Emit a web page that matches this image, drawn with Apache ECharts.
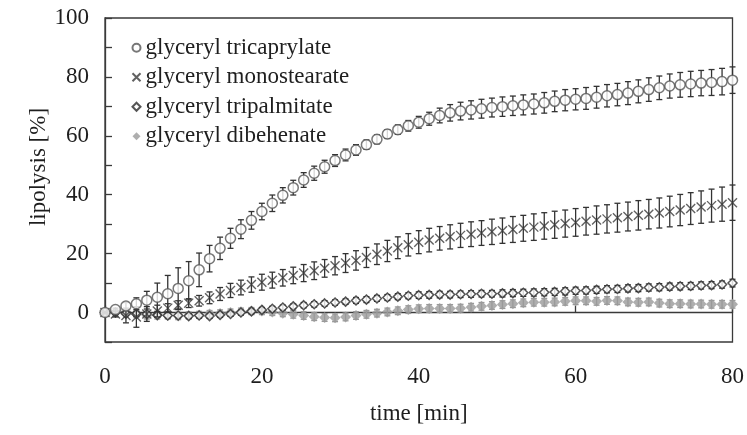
<!DOCTYPE html>
<html>
<head>
<meta charset="utf-8">
<script src="https://cdn.jsdelivr.net/npm/echarts@6/dist/echarts.min.js"></script>
<style>
  html, body { margin: 0; padding: 0; background: #fff; }
  #chart { width: 747px; height: 435px; }
</style>
</head>
<body>
<div id="chart"></div>
<script>
// Sampling times (min), one point every 80 s
const times = [0,1.33,2.67,4,5.33,6.67,8,9.33,10.67,12,13.33,14.67,16,17.33,18.67,20,21.33,22.67,24,25.33,
  26.67,28,29.33,30.67,32,33.33,34.67,36,37.33,38.67,40,41.33,42.67,44,45.33,46.67,48,49.33,50.67,52,
  53.33,54.67,56,57.33,58.67,60,61.33,62.67,64,65.33,66.67,68,69.33,70.67,72,73.33,74.67,76,77.33,78.67,80];

const seriesNames = ['glyceryl tricaprylate', 'glyceryl monostearate', 'glyceryl tripalmitate', 'glyceryl dibehenate'];

// Lipolysis (%) and standard deviations
const tricaprylate = [0,1.0,2.2,3.0,4.2,5.2,6.4,8.2,10.8,14.5,18.3,21.8,25.2,28.3,31.3,34.3,37.1,39.8,42.4,45.0,
  47.3,49.5,51.6,53.5,55.2,57.0,58.8,60.6,62.1,63.4,64.6,65.8,66.9,67.8,68.4,68.8,69.2,69.6,69.9,70.2,
  70.5,70.8,71.2,71.7,72.1,72.4,72.7,73.1,73.6,74.0,74.5,75.1,75.7,76.3,76.9,77.3,77.6,77.9,78.1,78.4,78.9];
const tricaprylateSd = [0,0.5,1.2,2,3,4.8,6.2,7,6.5,5.7,4.5,3.8,3.4,3.2,3,2.8,2.8,2.6,2.5,2.5,
  2.4,2.2,2,2,1.8,1.6,1.5,1.5,1.6,1.8,2,2.2,2.5,2.8,3,3.1,3.2,3.2,3.3,3.3,
  3.4,3.4,3.5,3.5,3.6,3.6,3.7,3.7,3.8,3.8,3.9,3.9,4,4,4.1,4.2,4.3,4.3,4.4,4.5,4.5];

const monostearate = [0,-0.5,-1.0,-1.5,-0.5,0.5,1.5,2.5,3.2,4.0,5.0,6.3,7.5,8.5,9.5,10.3,11.0,11.8,12.6,13.4,
  14.2,15.0,15.9,16.8,17.7,18.7,19.8,20.9,22.0,23.0,23.9,24.6,25.2,25.7,26.2,26.6,27.0,27.4,27.8,28.2,
  28.6,29.0,29.4,29.8,30.2,30.6,31.0,31.4,31.8,32.2,32.6,33.0,33.4,33.8,34.3,34.8,35.3,35.8,36.3,36.8,37.3];
const monostearateSd = [0.5,1,2.5,3.5,2.5,2,1.5,1.5,1.5,1.8,2,2.2,2.4,2.5,2.6,2.7,2.7,2.8,2.8,2.9,
  3,3,3.1,3.2,3.3,3.4,3.5,3.6,3.7,3.8,3.9,4,4,4.1,4.1,4.2,4.2,4.3,4.3,4.4,
  4.4,4.5,4.5,4.6,4.6,4.7,4.7,4.8,4.8,4.9,4.9,5,5,5.1,5.2,5.3,5.4,5.5,5.6,5.8,6.0];

const tripalmitate = [0,0,-0.3,-0.5,-0.5,-0.8,-1.0,-1.0,-1.2,-1.0,-1.2,-0.8,-0.5,0,0.4,0.9,1.3,1.7,2.1,2.5,
  2.8,3.1,3.4,3.7,4.1,4.4,4.8,5.1,5.4,5.7,5.9,6.0,6.1,6.1,6.2,6.3,6.4,6.4,6.5,6.6,
  6.7,6.8,6.9,7.0,7.2,7.4,7.5,7.7,7.9,8.0,8.2,8.3,8.5,8.6,8.8,8.9,9.0,9.2,9.3,9.5,10.0];
const tripalmitateSd = [0.3,0.5,0.6,0.8,0.8,0.8,0.8,0.8,0.8,0.8,0.8,0.8,0.8,0.8,0.8,0.8,0.8,0.8,0.8,0.9,
  0.9,0.9,0.9,0.9,1.0,1.0,1.0,1.0,1.0,1.0,1.1,1.1,1.1,1.1,1.1,1.1,1.1,1.1,1.2,1.2,
  1.2,1.2,1.2,1.2,1.2,1.2,1.2,1.2,1.2,1.2,1.2,1.2,1.2,1.2,1.2,1.2,1.2,1.2,1.2,1.2,1.3];

const dibehenate = [0,0,-0.5,-0.5,-1.0,-1.0,-1.0,-1.2,-1.0,-0.8,-0.5,-0.3,0,0.3,0.5,0.5,0.2,-0.2,-0.6,-1.0,
  -1.4,-1.7,-1.8,-1.5,-1.0,-0.6,-0.2,0.2,0.6,1.0,1.3,1.4,1.4,1.4,1.5,1.8,2.1,2.4,2.7,3.0,
  3.3,3.5,3.5,3.6,3.8,4.0,4.0,3.8,4.1,4.0,3.6,3.5,3.6,3.2,3.0,3.0,2.9,2.9,2.8,2.8,2.8];
const dibehenateSd = [0.5,0.8,1.0,1.2,1.2,1.2,1.2,1.2,1.2,1.2,1.2,1.2,1.2,1.2,1.2,1.2,1.2,1.2,1.3,1.3,
  1.3,1.3,1.3,1.3,1.3,1.3,1.3,1.3,1.3,1.3,1.3,1.3,1.3,1.3,1.3,1.3,1.3,1.3,1.3,1.3,
  1.3,1.3,1.3,1.3,1.3,1.3,1.3,1.3,1.3,1.3,1.3,1.3,1.3,1.3,1.3,1.3,1.3,1.3,1.3,1.3,1.3];

const xTicks = { min: 0, max: 80, step: 20 };
const yTicks = { min: -10, max: 100, step: 10, labelStep: 20 };

const FONT = '"Liberation Serif", "Times New Roman", Times, serif';
const AXIS = '#3a3a3a';
const INK = '#1e1e1e';

function points(vals) {
  return times.map((t, i) => [t, vals[i]]);
}

// Vertical error bar with short caps at both ends
function errorBars(vals, sds, color, z) {
  return {
    type: 'custom',
    silent: true,
    z: z,
    data: times.map((t, i) => [t, vals[i] - sds[i], vals[i] + sds[i]]),
    encode: { x: 0, y: [1, 2] },
    renderItem: function (params, api) {
      const x = api.value(0);
      const lo = api.coord([x, api.value(1)]);
      const hi = api.coord([x, api.value(2)]);
      const w = 3;
      const style = { stroke: color, lineWidth: 1.3 };
      return {
        type: 'group',
        children: [
          { type: 'line', shape: { x1: lo[0], y1: lo[1], x2: hi[0], y2: hi[1] }, style: style },
          { type: 'line', shape: { x1: lo[0] - w, y1: lo[1], x2: lo[0] + w, y2: lo[1] }, style: style },
          { type: 'line', shape: { x1: hi[0] - w, y1: hi[1], x2: hi[0] + w, y2: hi[1] }, style: style }
        ]
      };
    }
  };
}

const chart = echarts.init(document.getElementById('chart'), null, { renderer: 'canvas' });

chart.setOption({
  backgroundColor: '#ffffff',
  animation: false,
  textStyle: { fontFamily: FONT },
  grid: {
    left: 105, right: 12, top: 18, bottom: 93,
    show: true, borderColor: AXIS, borderWidth: 1.3, backgroundColor: 'transparent'
  },
  legend: {
    data: seriesNames,
    orient: 'vertical',
    left: 130, top: 36,
    padding: 0,
    itemWidth: 8, itemHeight: 8,
    itemGap: 6,
    textStyle: { fontFamily: FONT, fontSize: 23, color: INK, lineHeight: 23.5 },
    selectedMode: false
  },
  xAxis: {
    type: 'value',
    min: xTicks.min, max: xTicks.max, interval: xTicks.step,
    name: 'time [min]',
    nameLocation: 'middle',
    nameGap: 60,
    nameMoveOverlap: false,
    nameTextStyle: { fontFamily: FONT, fontSize: 23, color: INK },
    axisLine: { show: true, lineStyle: { color: AXIS, width: 1.3 } },
    axisTick: { show: true, inside: true, length: 7, lineStyle: { color: AXIS, width: 1.3 } },
    axisLabel: { fontFamily: FONT, fontSize: 23, color: INK, margin: 23 },
    splitLine: { show: false }
  },
  yAxis: {
    type: 'value',
    min: yTicks.min, max: yTicks.max, interval: yTicks.step,
    name: 'lipolysis [%]',
    nameLocation: 'middle',
    nameRotate: 90,
    nameGap: 55,
    nameMoveOverlap: false,
    nameTextStyle: { fontFamily: FONT, fontSize: 23, color: INK, padding: [0, 0, 0, 26] },
    axisLine: { show: true, lineStyle: { color: AXIS, width: 1.3 } },
    axisTick: { show: true, inside: true, length: 7, lineStyle: { color: AXIS, width: 1.3 } },
    axisLabel: {
      fontFamily: FONT, fontSize: 23, color: INK, margin: 16,
      formatter: v => (v >= 0 && v % yTicks.labelStep === 0) ? String(v) : ''
    },
    splitLine: { show: false }
  },
  series: [
    errorBars(dibehenate, dibehenateSd, '#9a9a9a', 1),
    {
      name: seriesNames[3], type: 'scatter', z: 2,
      data: points(dibehenate),
      symbol: 'diamond', symbolSize: 11,
      itemStyle: { color: '#9a9a9a' }
    },
    errorBars(tripalmitate, tripalmitateSd, '#333', 3),
    {
      name: seriesNames[2], type: 'scatter', z: 4,
      data: points(tripalmitate),
      symbol: 'diamond', symbolSize: 9,
      itemStyle: { color: '#ffffff', borderColor: '#2a2a2a', borderWidth: 1.5 }
    },
    errorBars(monostearate, monostearateSd, '#333', 5),
    {
      name: seriesNames[1], type: 'scatter', z: 6,
      data: points(monostearate),
      symbol: 'path://M0,0L10,10M10,0L0,10', symbolSize: 9,
      itemStyle: { color: 'none', borderColor: '#3a3a3a', borderWidth: 1.4 }
    },
    errorBars(tricaprylate, tricaprylateSd, '#333', 7),
    {
      name: seriesNames[0], type: 'scatter', z: 8,
      data: points(tricaprylate),
      symbol: 'circle', symbolSize: 10,
      itemStyle: { color: '#ffffff', borderColor: '#555', borderWidth: 1.5 }
    }
  ]
});
</script>
</body>
</html>
